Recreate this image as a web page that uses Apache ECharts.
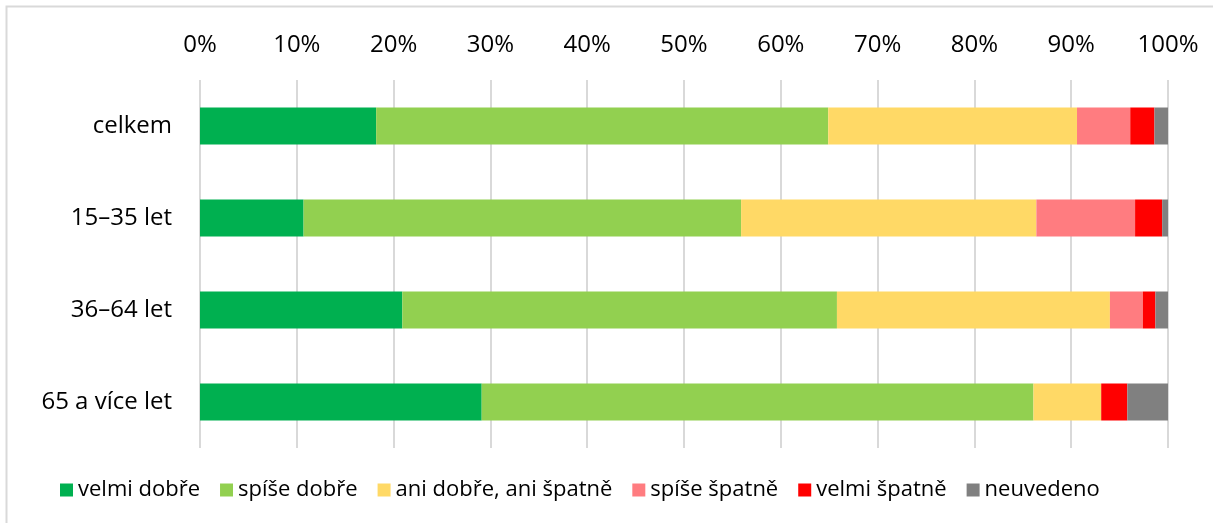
<!DOCTYPE html>
<html>
<head>
<meta charset="utf-8">
<script src="https://cdn.jsdelivr.net/npm/echarts@6/dist/echarts.min.js"></script>
<style>
  html, body { margin: 0; padding: 0; background: #fff; }
  #main { width: 1213px; height: 523px; }
</style>
</head>
<body>
<div id="main"></div>
<script>
// kategorie (shora dolu)
var categories = ['celkem', '15–35 let', '36–64 let', '65 a více let'];
var seriesNames = ['velmi dobře', 'spíše dobře', 'ani dobře, ani špatně', 'spíše špatně', 'velmi špatně', 'neuvedeno'];
var colors = ['#00b050', '#92d050', '#ffd966', '#ff7c80', '#ff0000', '#808080'];

// podily v % pro kazdou kategorii
var velmiDobre   = [18.2, 10.7, 20.9, 29.1];
var spiseDobre   = [46.7, 45.2, 44.9, 57.0];
var aniAni       = [25.7, 30.5, 28.2, 7.0];
var spiseSpatne  = [5.5, 10.2, 3.4, 0];
var velmiSpatne  = [2.5, 2.8, 1.3, 2.7];
var neuvedeno    = [1.4, 0.6, 1.3, 4.2];

var xTicks = [0, 10, 20, 30, 40, 50, 60, 70, 80, 90, 100];

var values = [velmiDobre, spiseDobre, aniAni, spiseSpatne, velmiSpatne, neuvedeno];
var font = 'Open Sans';

var myChart = echarts.init(document.getElementById('main'));
myChart.setOption({
  animation: false,
  color: colors,
  graphic: [{
    type: 'rect',
    shape: { x: 6.5, y: 6.5, width: 1230, height: 540 },
    style: { fill: 'none', stroke: '#d9d9d9', lineWidth: 2 },
    silent: true
  }],
  grid: {
    left: 200,
    right: 45,
    top: 80,
    bottom: 75
  },
  legend: {
    data: seriesNames,
    left: 55,
    top: 474,
    icon: 'rect',
    itemWidth: 13,
    itemHeight: 13,
    itemGap: 20,
    textStyle: { fontFamily: font, fontSize: 22, color: '#000' }
  },
  xAxis: {
    type: 'value',
    position: 'top',
    min: xTicks[0],
    max: xTicks[xTicks.length - 1],
    interval: 10,
    axisLine: { show: false },
    axisTick: { show: false },
    splitLine: { lineStyle: { color: '#d9d9d9', width: 2 } },
    axisLabel: {
      formatter: function (v) { return v + '%'; },
      fontFamily: font, fontSize: 24, color: '#000', margin: 23
    }
  },
  yAxis: {
    type: 'category',
    inverse: true,
    data: categories,
    axisLine: { show: false },
    axisTick: { show: false },
    axisLabel: { fontFamily: font, fontSize: 24, color: '#000', margin: 28 }
  },
  series: seriesNames.map(function (name, i) {
    return {
      name: name,
      type: 'bar',
      stack: 'total',
      barWidth: 37,
      data: values[i],
      itemStyle: { color: colors[i] }
    };
  })
});
</script>
</body>
</html>
